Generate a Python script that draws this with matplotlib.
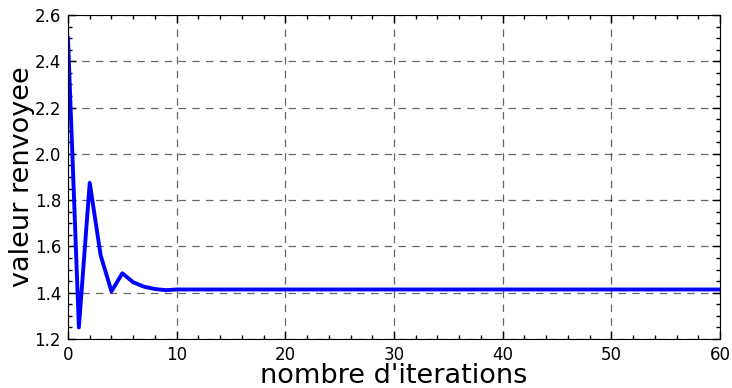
import matplotlib
matplotlib.use("Agg")
import matplotlib.pyplot as plt
from matplotlib.ticker import MultipleLocator

iterations = list(range(61))
values = [2.5, 1.25, 1.875, 1.5625, 1.406, 1.484, 1.445, 1.426, 1.416, 1.411] + [1.414] * 51
xlabel = "nombre d'iterations"
ylabel = "valeur renvoyee"

fig = plt.figure(figsize=(7.32, 3.88), dpi=100)
ax = fig.add_axes([0.0929, 0.1263, 0.8907, 0.835])
ax.plot(iterations, values, color="#0000ff", lw=2.8)
ax.set_xlim(0, 60)
ax.set_ylim(1.2, 2.6)
ax.xaxis.set_major_locator(MultipleLocator(10))
ax.xaxis.set_minor_locator(MultipleLocator(2))
ax.yaxis.set_major_locator(MultipleLocator(0.2))
ax.yaxis.set_minor_locator(MultipleLocator(0.05))
ax.tick_params(which="both", direction="in", top=True, right=True, labelsize=12, pad=5)
ax.tick_params(which="major", length=6, width=1)
ax.tick_params(which="minor", length=3, width=1)
ax.grid(True, which="major", color="k", linestyle=(0, (6, 5)), linewidth=0.9, alpha=0.6)
ax.set_xlabel(xlabel, fontsize=19.5, labelpad=-0.5)
ax.set_ylabel(ylabel, fontsize=19.5, labelpad=0)
fig.savefig("out.png", dpi=100)
